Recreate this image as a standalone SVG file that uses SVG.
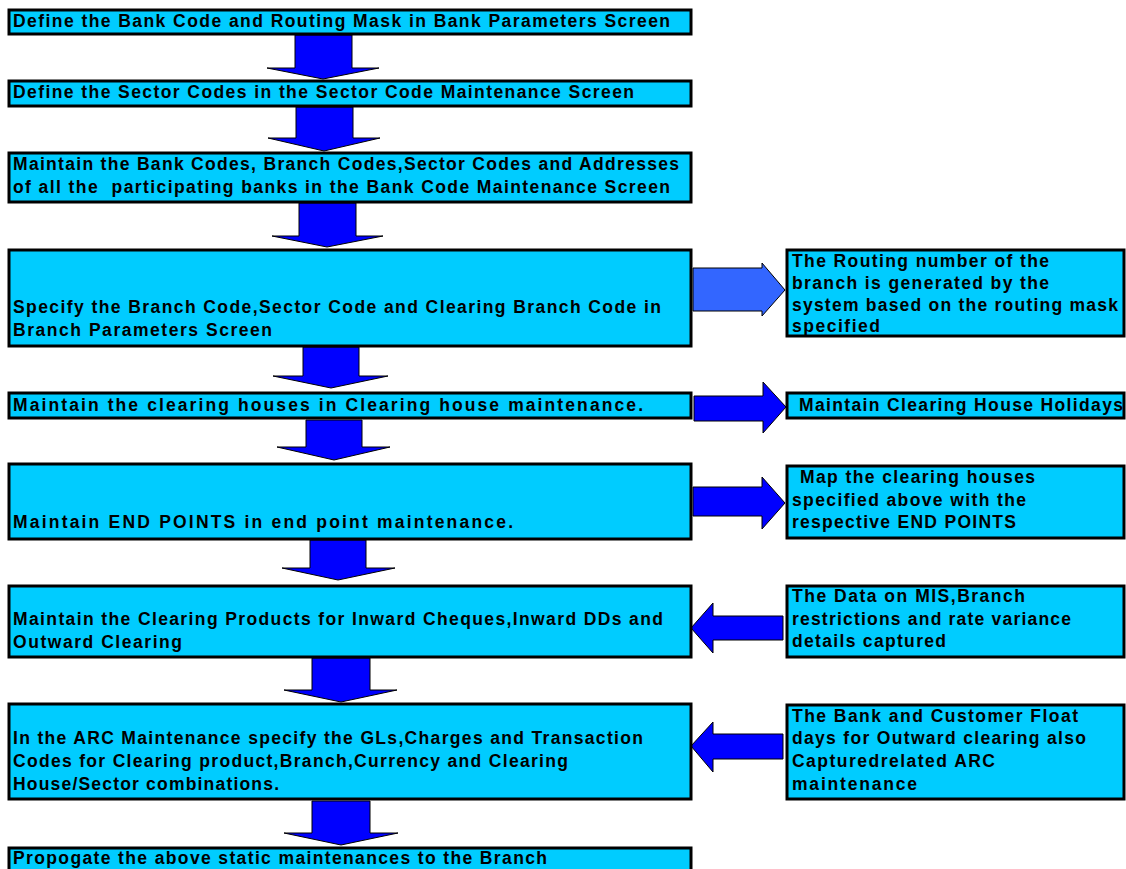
<svg xmlns="http://www.w3.org/2000/svg" width="1126" height="869" viewBox="0 0 1126 869">
<style>
.box{fill:#00CCFF;stroke:#000;stroke-width:3}
.t{font-family:"Liberation Sans",Arial,sans-serif;font-weight:bold;font-size:17.5px;fill:#000;white-space:pre}
.arr{fill:#0000FF;stroke:#000;stroke-width:1}
.arrl{fill:#3366FF;stroke:#000;stroke-width:1}
</style>
<rect width="1126" height="869" fill="#fff"/>
<g id="connectors">
<polygon class="arr" points="295,35 352,35 352,68 379,68 323,79 267,68 295,68"/>
<polygon class="arr" points="296,107 353,107 353,138 380,138 324,151 268,138 296,138"/>
<polygon class="arr" points="299,203 356,203 356,236 383,236 327,247 272,236 299,236"/>
<polygon class="arr" points="303,347 359,347 359,376 388,376 331,388 273,376 303,376"/>
<polygon class="arr" points="306,420 362,420 362,447 390,447 334,460 277,447 306,447"/>
<polygon class="arr" points="310,540 366,540 366,568 395,568 338,580 282,568 310,568"/>
<polygon class="arr" points="312,658 370,658 370,690 397,690 341,702 284,690 312,690"/>
<polygon class="arr" points="312,801 370,801 370,833 398,833 341,845 284,833 312,833"/>
<polygon class="arrl" points="693,268 762,268 762,263 785,290 762,316 762,311 693,311"/>
<polygon class="arr" points="694,396 763,396 763,382 786,407 763,433 763,421 694,421"/>
<polygon class="arr" points="693,487 762,487 762,477 785,503 762,529 762,516 693,516"/>
<polygon class="arr" points="783,616 713,616 713,603 691,628 713,653 713,640 783,640"/>
<polygon class="arr" points="783,734 713,734 713,722 691,746 713,772 713,759 783,759"/>
</g>
<g id="n1"><rect class="box" x="9" y="10" width="682" height="24"/>
<text class="t" x="13" y="27" textLength="657" lengthAdjust="spacing">Define the Bank Code and Routing Mask in Bank Parameters Screen</text></g>
<g id="n2"><rect class="box" x="9" y="81" width="682" height="25"/>
<text class="t" x="13" y="98" textLength="621" lengthAdjust="spacing">Define the Sector Codes in the Sector Code Maintenance Screen</text></g>
<g id="n3"><rect class="box" x="9" y="153" width="682" height="49"/>
<text class="t" x="13" y="170" textLength="666" lengthAdjust="spacing">Maintain the Bank Codes, Branch Codes,Sector Codes and Addresses</text>
<text class="t" x="13" y="193" textLength="657" lengthAdjust="spacing">of all the  participating banks in the Bank Code Maintenance Screen</text></g>
<g id="n4"><rect class="box" x="9" y="250" width="682" height="96"/>
<text class="t" x="13" y="313" textLength="648" lengthAdjust="spacing">Specify the Branch Code,Sector Code and Clearing Branch Code in</text>
<text class="t" x="13" y="336" textLength="259" lengthAdjust="spacing">Branch Parameters Screen</text></g>
<g id="n5"><rect class="box" x="9" y="393" width="682" height="25"/>
<text class="t" x="13" y="411" textLength="630" lengthAdjust="spacing">Maintain the clearing houses in Clearing house maintenance.</text></g>
<g id="n6"><rect class="box" x="9" y="464" width="682" height="75"/>
<text class="t" x="13" y="528" textLength="500" lengthAdjust="spacing">Maintain END POINTS in end point maintenance.</text></g>
<g id="n7"><rect class="box" x="9" y="586" width="682" height="71"/>
<text class="t" x="13" y="625" textLength="650" lengthAdjust="spacing">Maintain the Clearing Products for Inward Cheques,Inward DDs and</text>
<text class="t" x="13" y="648" textLength="169" lengthAdjust="spacing">Outward Clearing</text></g>
<g id="n8"><rect class="box" x="9" y="704" width="682" height="95"/>
<text class="t" x="13" y="744" textLength="630" lengthAdjust="spacing">In the ARC Maintenance specify the GLs,Charges and Transaction</text>
<text class="t" x="13" y="767" textLength="555" lengthAdjust="spacing">Codes for Clearing product,Branch,Currency and Clearing</text>
<text class="t" x="13" y="790" textLength="266" lengthAdjust="spacing">House/Sector combinations.</text></g>
<g id="n9"><rect class="box" x="9" y="848" width="682" height="30"/>
<text class="t" x="13" y="864" textLength="534" lengthAdjust="spacing">Propogate the above static maintenances to the Branch</text></g>
<g id="r1"><rect class="box" x="787" y="250" width="337" height="86"/>
<text class="t" x="792" y="267" textLength="257" lengthAdjust="spacing">The Routing number of the</text>
<text class="t" x="792" y="289" textLength="257" lengthAdjust="spacing">branch is generated by the</text>
<text class="t" x="792" y="311" textLength="326" lengthAdjust="spacing">system based on the routing mask</text>
<text class="t" x="792" y="332" textLength="88" lengthAdjust="spacing">specified</text></g>
<g id="r2"><rect class="box" x="787" y="393" width="337" height="25"/>
<text class="t" x="799" y="411" textLength="324" lengthAdjust="spacing">Maintain Clearing House Holidays</text></g>
<g id="r3"><rect class="box" x="787" y="466" width="337" height="72"/>
<text class="t" x="800" y="483" textLength="235" lengthAdjust="spacing">Map the clearing houses</text>
<text class="t" x="792" y="506" textLength="234" lengthAdjust="spacing">specified above with the</text>
<text class="t" x="792" y="528" textLength="224" lengthAdjust="spacing">respective END POINTS</text></g>
<g id="r4"><rect class="box" x="787" y="586" width="337" height="71"/>
<text class="t" x="792" y="602" textLength="233" lengthAdjust="spacing">The Data on MIS,Branch</text>
<text class="t" x="792" y="625" textLength="279" lengthAdjust="spacing">restrictions and rate variance</text>
<text class="t" x="792" y="647" textLength="154" lengthAdjust="spacing">details captured</text></g>
<g id="r5"><rect class="box" x="787" y="705" width="337" height="94"/>
<text class="t" x="792" y="722" textLength="286" lengthAdjust="spacing">The Bank and Customer Float</text>
<text class="t" x="792" y="744" textLength="294" lengthAdjust="spacing">days for Outward clearing also</text>
<text class="t" x="792" y="767" textLength="203" lengthAdjust="spacing">Capturedrelated ARC</text>
<text class="t" x="792" y="790" textLength="125" lengthAdjust="spacing">maintenance</text></g>
</svg>
